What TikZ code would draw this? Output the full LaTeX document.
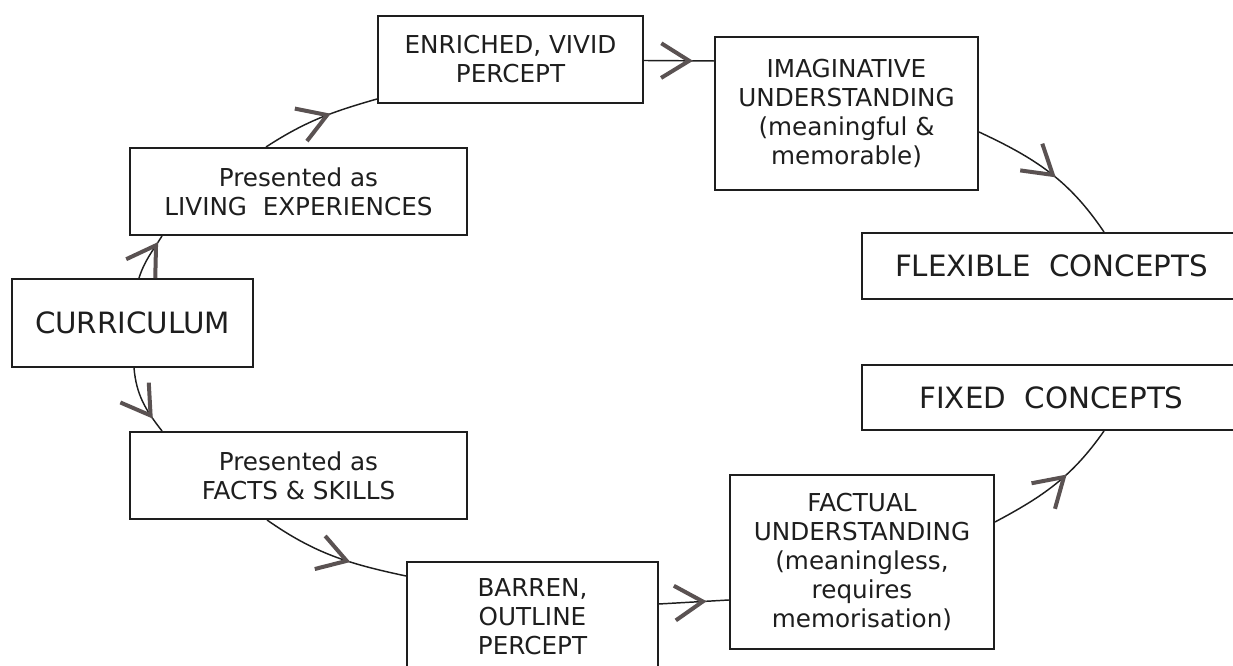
\documentclass[tikz,border=0pt]{standalone}
\usepackage{fontspec}
\setmainfont{DejaVu Sans}
\usetikzlibrary{arrows.meta,decorations.markings,calc}
\definecolor{ink}{HTML}{1E1E1E}
\definecolor{chev}{HTML}{5A5252}
\newcommand{\boxfont}{\fontsize{18.5pt}{21.75pt}\selectfont}
\newcommand{\bigfont}{\fontsize{22pt}{26pt}\selectfont}
\begin{document}
\begin{tikzpicture}[x=0.75pt,y=0.75pt,
  box/.style={draw=ink, line width=1.5pt, inner sep=0pt, align=center,
    font=\boxfont, text=ink},
  wh/.style 2 args={minimum width=#1*0.75pt, minimum height=#2*0.75pt},
  link/.style={draw=ink, line width=1.1pt, postaction={decorate},
    decoration={markings, mark=at position #1 with
      {\arrow{Straight Barb[length=21pt,width=26pt,line width=3pt,color=chev]}}}}
]
\useasboundingbox (0,0) rectangle (1233,666);
\clip (0,0) rectangle (1233,666);

% boxes
\node[box, wh={241}{88}, font=\bigfont] (cur) at (132.5,343) {CURRICULUM};
\node[box, wh={337}{87}] (liv) at (298.5,474.5) {Presented as\\LIVING\ \ EXPERIENCES};
\node[box, wh={265}{87}] (enr) at (510.5,606.5) {ENRICHED, VIVID\\PERCEPT};
\node[box, wh={263}{153}] (ima) at (846.5,552.5) {IMAGINATIVE\\UNDERSTANDING\\(meaningful \&\\memorable)};
\node[box, wh={379}{66}, font=\bigfont] (flx) at (1051.5,400) {FLEXIBLE\ \ CONCEPTS};
\node[box, wh={379}{65}, font=\bigfont] (fix) at (1051.5,268.5) {FIXED\ \ CONCEPTS};
\node[box, wh={337}{87}] (fac) at (298.5,190.5) {Presented as\\FACTS \& SKILLS};
\node[box, wh={251}{110}] (bar) at (532.5,49) {BARREN,\\OUTLINE\\PERCEPT};
\node[box, wh={264}{174}] (fct) at (862,104) {FACTUAL\\UNDERSTANDING\\(meaningless,\\requires\\memorisation)};

% upper path: living experiences
\draw[link=0.85] ($(cur.north west)+(128,0)$) to[out=72,in=238] ($(liv.south west)+(33,0)$);
\draw[link=0.6] ($(liv.north west)+(137,0)$) to[out=33,in=196] ($(enr.south west)+(0,5)$);
\draw[link=0.7] ($(enr.east)+(0,-1)$) -- ($(ima.north west)+(0,-25)$);
\draw[link=0.55] ($(ima.north east)+(0,-96)$) to[out=-25,in=124] ($(flx.north west)+(243,0)$);

% lower path: facts and skills
\draw[link=0.78] ($(cur.south west)+(123,0)$) to[out=-85,in=128] ($(fac.north west)+(33,0)$);
\draw[link=0.62] ($(fac.south west)+(138,0)$) to[out=-35,in=168] ($(bar.north west)+(0,-15)$);
\draw[link=0.68] ($(bar.north east)+(0,-43)$) -- ($(fct.north west)+(0,-126)$);
\draw[link=0.6] ($(fct.north east)+(0,-48)$) to[out=28,in=235] ($(fix.south west)+(243,0)$);
\end{tikzpicture}
\end{document}
